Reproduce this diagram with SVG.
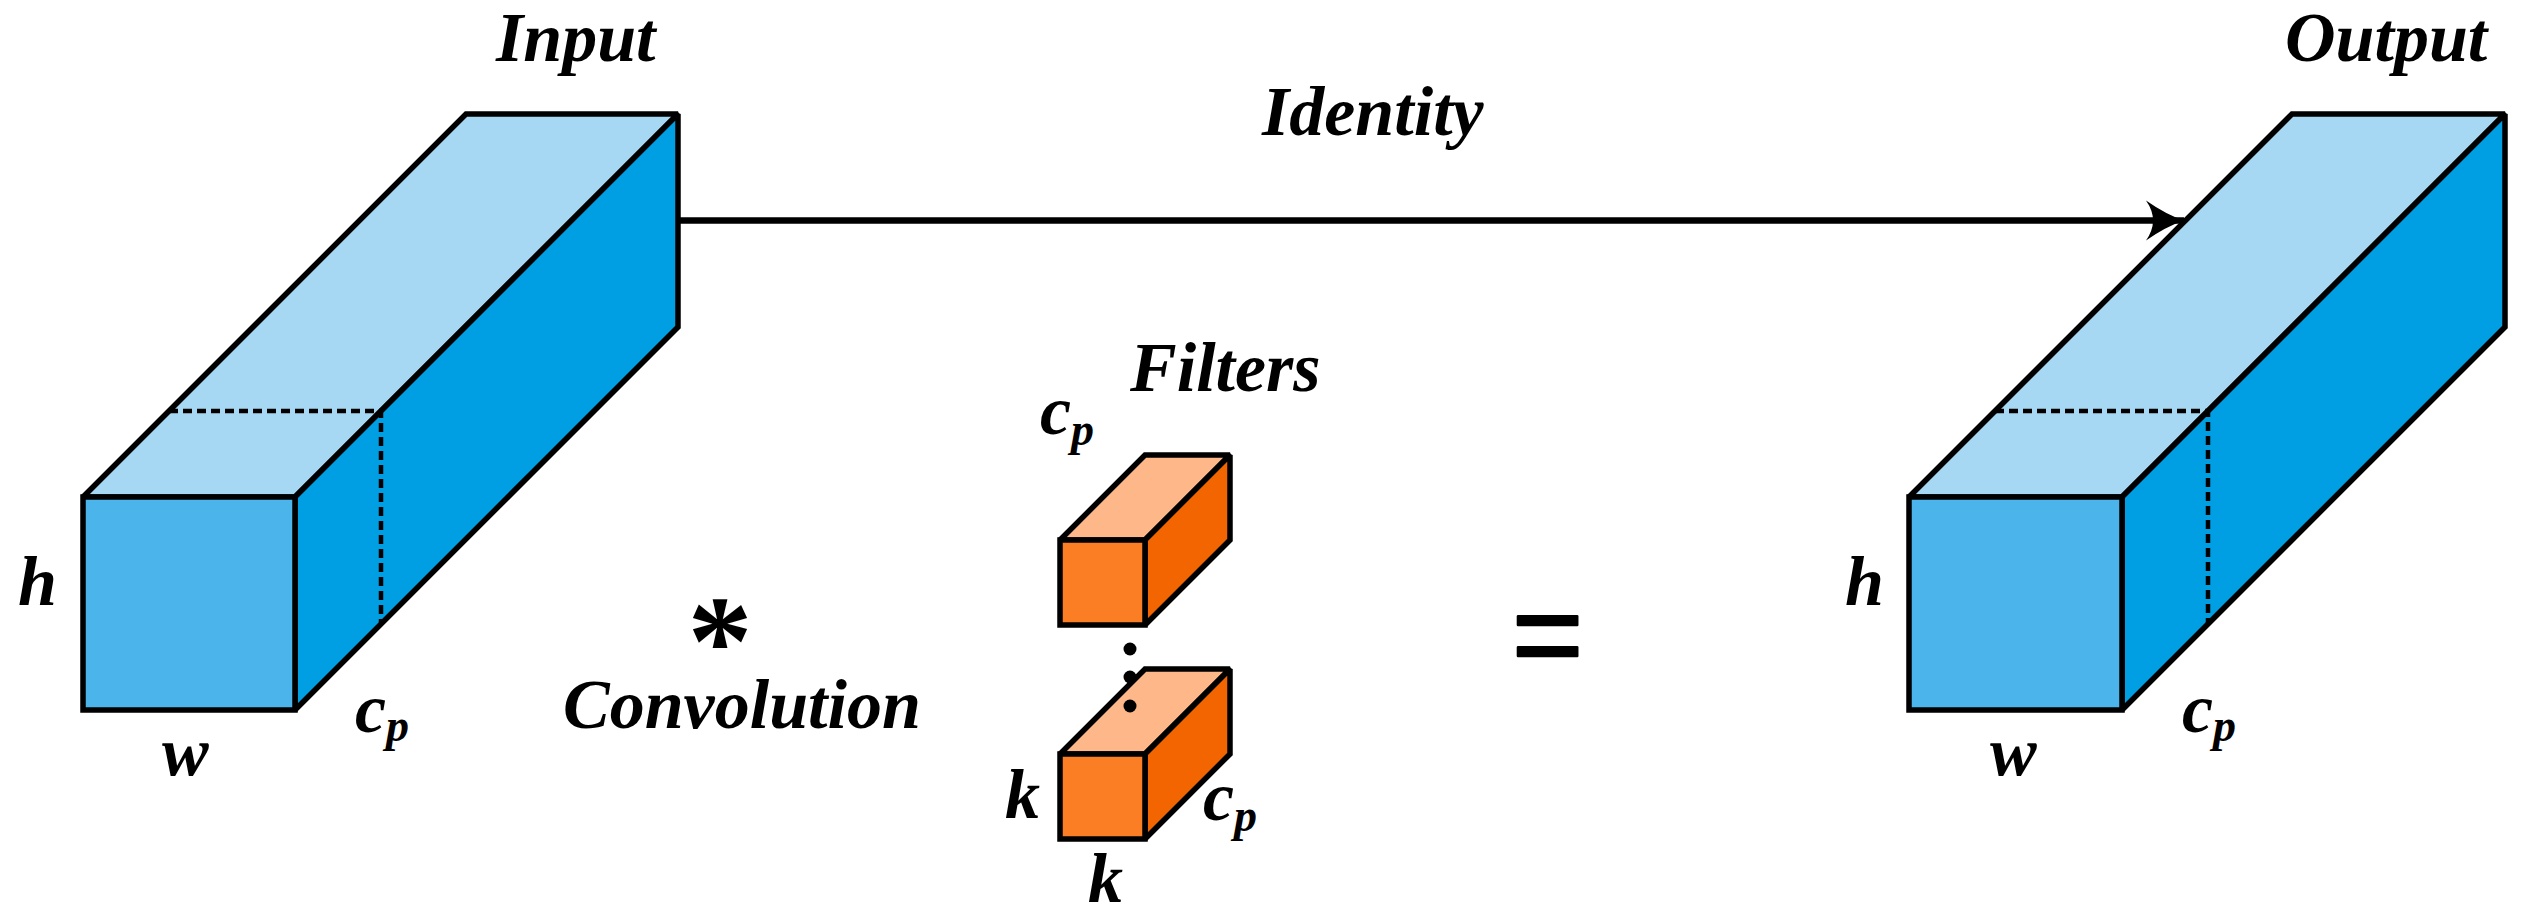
<svg xmlns="http://www.w3.org/2000/svg" width="2528" height="920" viewBox="0 0 2528 920">
<style>
.edge{stroke:#000;stroke-width:5.5;stroke-linejoin:miter;stroke-miterlimit:2}
.btop{fill:#A6D8F3}.bfront{fill:#4BB4EA}.bside{fill:#009FE3}
.otop{fill:#FDB789}.ofront{fill:#FC7E24}.oside{fill:#F26500}
.dash{stroke:#000;stroke-width:4.5;stroke-dasharray:9,5;fill:none}
.lbl{font-family:"Liberation Serif","Times New Roman",serif;font-weight:bold;font-style:italic;font-size:70px;fill:#000}
.sub{font-size:46px}
</style>
<defs>
<marker id="ah" markerUnits="userSpaceOnUse" markerWidth="44" markerHeight="44" viewBox="0 0 44 44" refX="40" refY="22" orient="auto">
<path d="M40,22 Q22,16 2,2 Q9,12 9,22 Q9,32 2,42 Q22,28 40,22 Z" fill="#000"/>
</marker>
</defs>
<rect width="2528" height="920" fill="#fff"/>

<g id="connectors">
<line x1="679" y1="220.5" x2="2184" y2="220.5" stroke="#000" stroke-width="6.5" marker-end="url(#ah)"/>
</g>

<g id="input">
<polygon class="btop edge" points="83,497 466,114 678,114 295,497"/>
<polygon class="bside edge" points="295,497 678,114 678,327 295,710"/>
<rect class="bfront edge" x="83" y="497" width="212" height="213"/>
<path class="dash" d="M169,411 H381 V624"/>
<text class="lbl" x="496" y="61">Input</text>
<text class="lbl" x="18" y="605">h</text>
<text class="lbl" x="162" y="775">w</text>
<text class="lbl" x="355" y="732">c<tspan class="sub" dy="9">p</tspan></text>
</g>

<g id="identity-label">
<text class="lbl" x="1262" y="135">Identity</text>
</g>

<g id="output">
<polygon class="btop edge" points="1909,497 2292,114 2505,114 2122,497"/>
<polygon class="bside edge" points="2122,497 2505,114 2505,327 2122,710"/>
<rect class="bfront edge" x="1909" y="497" width="213" height="213"/>
<path class="dash" d="M1995,411 H2208 V624"/>
<text class="lbl" x="2285" y="61">Output</text>
<text class="lbl" x="1845" y="605">h</text>
<text class="lbl" x="1990" y="775">w</text>
<text class="lbl" x="2182" y="732">c<tspan class="sub" dy="9">p</tspan></text>
</g>

<g id="convolution">
<text x="720" y="685" text-anchor="middle" style="font-family:'Liberation Serif','Times New Roman',serif;font-weight:bold;font-size:130px">*</text>
<text class="lbl" x="563" y="728">Convolution</text>
</g>

<g id="filter1">
<polygon class="otop edge" points="1060,540 1145,455 1230,455 1145,540"/>
<polygon class="oside edge" points="1145,540 1230,455 1230,540 1145,625"/>
<rect class="ofront edge" x="1060" y="540" width="85" height="85"/>
<text class="lbl" x="1130" y="391">Filters</text>
<text class="lbl" x="1040" y="434">c<tspan class="sub" dy="11">p</tspan></text>
</g>

<g id="filter2">
<polygon class="otop edge" points="1060,754 1145,669 1230,669 1145,754"/>
<polygon class="oside edge" points="1145,754 1230,669 1230,754 1145,839"/>
<rect class="ofront edge" x="1060" y="754" width="85" height="85"/>
<text class="lbl" x="1005" y="818">k</text>
<text class="lbl" x="1203" y="820">c<tspan class="sub" dy="11">p</tspan></text>
<text class="lbl" x="1088" y="902">k</text>
</g>

<g id="dots">
<circle cx="1130" cy="649" r="6.5" fill="#000"/>
<circle cx="1130" cy="677" r="6.5" fill="#000"/>
<circle cx="1130" cy="706" r="6.5" fill="#000"/>
</g>

<g id="equals">
<text x="1512" y="677" style="font-family:'Liberation Sans',Arial,sans-serif;font-size:122px;stroke:#000;stroke-width:2.5;stroke-linejoin:round">=</text>
</g>
</svg>
